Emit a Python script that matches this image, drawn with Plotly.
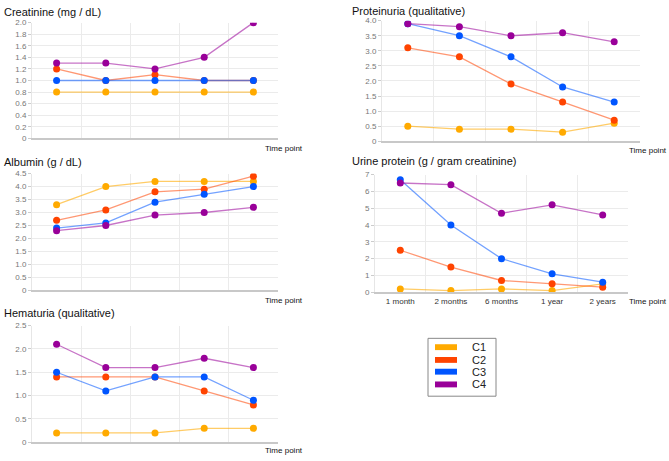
import plotly.graph_objects as go

time_points = ["1 month", "2 months", "6 months", "1 year", "2 years"]
series_names = ["C1", "C2", "C3", "C4"]
series_colors = ["#ffaa00", "#ff4400", "#0055ff", "#990099"]
line_colors = ["rgba(255,170,0,0.6)", "rgba(255,68,0,0.55)", "rgba(0,85,255,0.55)", "rgba(153,0,153,0.55)"]

creatinine = {
    "C1": [0.8, 0.8, 0.8, 0.8, 0.8],
    "C2": [1.2, 1.0, 1.1, 1.0, 1.0],
    "C3": [1.0, 1.0, 1.0, 1.0, 1.0],
    "C4": [1.3, 1.3, 1.2, 1.4, 2.0],
}
proteinuria = {
    "C1": [0.5, 0.4, 0.4, 0.3, 0.6],
    "C2": [3.1, 2.8, 1.9, 1.3, 0.7],
    "C3": [3.9, 3.5, 2.8, 1.8, 1.3],
    "C4": [3.9, 3.8, 3.5, 3.6, 3.3],
}
albumin = {
    "C1": [3.3, 4.0, 4.2, 4.2, 4.2],
    "C2": [2.7, 3.1, 3.8, 3.9, 4.4],
    "C3": [2.4, 2.6, 3.4, 3.7, 4.0],
    "C4": [2.3, 2.5, 2.9, 3.0, 3.2],
}
urine_protein = {
    "C1": [0.2, 0.1, 0.2, 0.1, 0.5],
    "C2": [2.5, 1.5, 0.7, 0.5, 0.3],
    "C3": [6.7, 4.0, 2.0, 1.1, 0.6],
    "C4": [6.5, 6.4, 4.7, 5.2, 4.6],
}
hematuria = {
    "C1": [0.2, 0.2, 0.2, 0.3, 0.3],
    "C2": [1.4, 1.4, 1.4, 1.1, 0.8],
    "C3": [1.5, 1.1, 1.4, 1.4, 0.9],
    "C4": [2.1, 1.6, 1.6, 1.8, 1.6],
}

W, H = 669, 461

def px(x):
    return x / W

def py(y):
    return 1 - y / H

panels = [
    dict(data=creatinine, title="Creatinine (mg / dL)", x0=32, x1=278, yt=19, yb=137, ymax=2.0, dtick=0.2,
         fmt="%.1f", xlab=False, tx=2, ty=8, tpx=305, tpy=147),
    dict(data=proteinuria, title="Proteinuria (qualitative)", x0=382, x1=640, yt=17, yb=140, ymax=4.0, dtick=0.5,
         fmt="%.1f", xlab=False, tx=350, ty=7, tpx=669, tpy=149),
    dict(data=albumin, title="Albumin (g / dL)", x0=32, x1=278, yt=173, yb=292, ymax=4.5, dtick=0.5,
         fmt="%.1f", xlab=False, tx=2, ty=161, tpx=305, tpy=302),
    dict(data=urine_protein, title="Urine protein (g / gram creatinine)", x0=375, x1=628, yt=174, yb=294, ymax=7, dtick=1,
         fmt="%d", xlab=True, tx=350, ty=160, tpx=669, tpy=303),
    dict(data=hematuria, title="Hematuria (qualitative)", x0=32, x1=278, yt=328, yb=447, ymax=2.5, dtick=0.5,
         fmt="%.1f", xlab=False, tx=2, ty=315, tpx=305, tpy=455),
]

fig = go.Figure()
annotations = []
shapes = []
FONT = "Liberation Sans, Arial, sans-serif"

for i, p in enumerate(panels, start=1):
    xa = "x" if i == 1 else f"x{i}"
    ya = "y" if i == 1 else f"y{i}"
    for name, col, lcol in zip(series_names, series_colors, line_colors):
        fig.add_trace(go.Scatter(
            x=time_points, y=p["data"][name], mode="lines+markers", name=name,
            xaxis=xa, yaxis=ya, showlegend=False,
            line=dict(color=lcol, width=1.3),
            marker=dict(color=col, size=7),
        ))
    n = int(round(p["ymax"] / p["dtick"]))
    tv = [k * p["dtick"] for k in range(n + 1)]
    tt = ["0"] + [p["fmt"] % v for v in tv[1:]]
    fig.update_layout(**{
        ("xaxis" if i == 1 else f"xaxis{i}"): dict(
            domain=[px(p["x0"]), px(p["x1"])], anchor=ya, type="category",
            categoryorder="array", categoryarray=time_points,
            range=[-0.5, 4.5], tickson="boundaries", showgrid=True, gridcolor="#ebebeb",
            gridwidth=1, showline=True, linecolor="#c8c8c8", linewidth=1.5,
            showticklabels=p["xlab"], ticks="", tickfont=dict(size=8, color="#333", family=FONT),
            zeroline=False, fixedrange=True,
        ),
        ("yaxis" if i == 1 else f"yaxis{i}"): dict(
            domain=[py(p["yb"]), py(p["yt"])], anchor=xa, range=[0, p["ymax"]],
            tickmode="array", tickvals=tv, ticktext=tt, showgrid=True, gridcolor="#ebebeb",
            showline=True, linecolor="#e6e6e6", linewidth=1, ticks="outside", ticklen=3,
            tickcolor="#cccccc", tickfont=dict(size=8, color="#777", family=FONT),
            zeroline=False, fixedrange=True,
        ),
    })
    annotations.append(dict(text=p["title"], x=px(p["tx"]), y=py(p["ty"]), xref="paper", yref="paper",
                            xanchor="left", yanchor="middle", showarrow=False,
                            font=dict(size=11, color="#111", family=FONT)))
    annotations.append(dict(text="Time point", x=px(p["tpx"]), y=py(p["tpy"]), xref="paper", yref="paper",
                            xanchor="right", yanchor="middle", showarrow=False,
                            font=dict(size=8, color="#111", family=FONT)))

# Legend box (drawn manually for compact spacing)
lx0, ly0, lx1, ly1 = 428, 341, 496, 400
shapes.append(dict(type="rect", xref="paper", yref="paper", x0=px(lx0), x1=px(lx1), y0=py(ly1), y1=py(ly0),
                   line=dict(color="#888", width=1), fillcolor="rgba(0,0,0,0)"))
row_y = [350, 363, 375, 388]
for name, col, ry in zip(series_names, series_colors, row_y):
    shapes.append(dict(type="rect", xref="paper", yref="paper", x0=px(435), x1=px(457),
                       y0=py(ry + 3), y1=py(ry - 3), line=dict(width=0), fillcolor=col))
    annotations.append(dict(text=name, x=px(470), y=py(ry), xref="paper", yref="paper",
                            xanchor="left", yanchor="middle", showarrow=False,
                            font=dict(size=11, color="#222", family=FONT)))

fig.update_layout(
    width=W, height=H, margin=dict(l=0, r=0, t=0, b=0),
    paper_bgcolor="white", plot_bgcolor="white",
    annotations=annotations, shapes=shapes, showlegend=False,
    font=dict(family=FONT),
)

fig.write_html("out.html", config={"displayModeBar": False},
               post_script="document.body.style.margin='0';document.body.style.overflow='hidden';")
